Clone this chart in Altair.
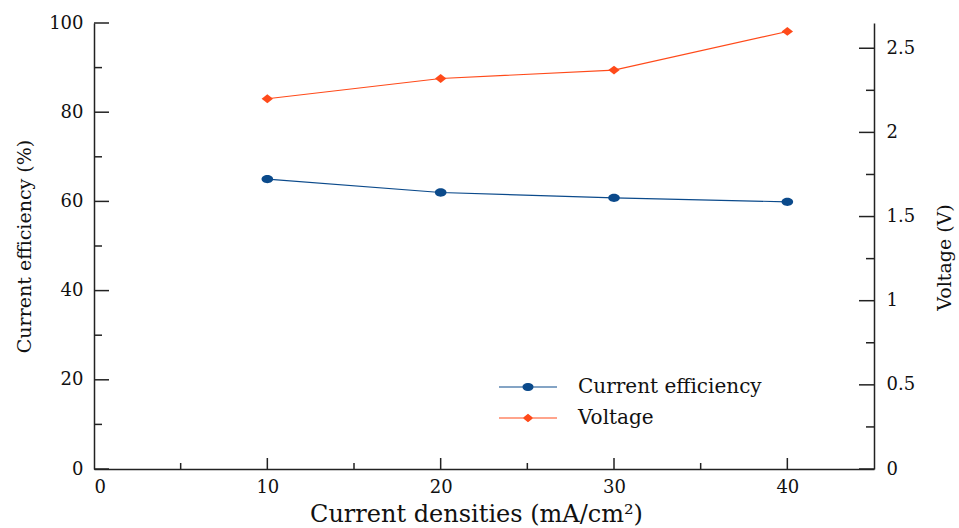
import altair as alt
import pandas as pd

# ---- data ----
current_density = [10, 20, 30, 40]
efficiency = [65.0, 62.0, 60.8, 59.9]
voltage = [2.20, 2.32, 2.37, 2.60]

x_labels = [0, 10, 20, 30, 40]
x_major_ticks = [10, 20, 30, 40]
x_minor_ticks = [5, 15, 25, 35]
left_major = [0, 20, 40, 60, 80, 100]
left_minor = [10, 30, 50, 70, 90]
right_major = [0, 0.5, 1, 1.5, 2, 2.5]
right_minor = [0.25, 0.75, 1.25, 1.75, 2.25]

series_eff = "Current efficiency"
series_volt = "Voltage"

# ---- style ----
FONT = "DejaVu Serif"
TXT = "#111111"
AX = "#222222"
BLUE = "#0b4a8b"
ORANGE = "#ff4a1a"
W, H = 780, 446

ELLIPSE = "M1,0A1,0.72,0,1,1,-1,0A1,0.72,0,1,1,1,0Z"
DIAMOND = "M-1,0L0,-0.78L1,0L0,0.78Z"
LEG_CIRCLE = "M-1,0H1M0.172,0A0.172,0.12,0,1,1,-0.172,0A0.172,0.12,0,1,1,0.172,0Z"
LEG_DIAMOND = "M-1,0H1M-0.15,0L0,-0.117L0.15,0L0,0.117Z"

df_eff = pd.DataFrame({"x": current_density, "v": efficiency})
df_volt = pd.DataFrame({"x": current_density, "v": voltage})

xscale = alt.Scale(domain=[0, 45], nice=False, zero=False)
lscale = alt.Scale(domain=[0, 100], nice=False)
rscale = alt.Scale(domain=[0, 2.65], nice=False)

xaxis = alt.Axis(
    values=x_labels, format="d", ticks=False, tickSize=0, labelPadding=9,
    labelFont=FONT, labelFontSize=18, labelColor=TXT,
    domainColor=AX, domainWidth=1.5, grid=False,
    title="Current densities (mA/cm²)", titleFont=FONT, titleFontSize=24,
    titleFontWeight="normal", titleColor=TXT, titleX=382, titleY=52,
    titleAlign="center", titleBaseline="alphabetic",
)
laxis = alt.Axis(
    orient="left", values=left_major, format="d", ticks=False, tickSize=0,
    labelPadding=11, labelFont=FONT, labelFontSize=18, labelColor=TXT,
    domainColor=AX, domainWidth=1.5, grid=False,
    title="Current efficiency (%)", titleFont=FONT, titleFontSize=19,
    titleFontWeight="normal", titleColor=TXT, titleAngle=270,
    titleX=-70, titleY=223, titleAlign="center", titleBaseline="middle",
)
raxis = alt.Axis(
    orient="right", values=right_major, format="~r", ticks=False, tickSize=0,
    labelPadding=12, labelFont=FONT, labelFontSize=18, labelColor=TXT,
    domainColor=AX, domainWidth=1.5, grid=False,
    title="Voltage (V)", titleFont=FONT, titleFontSize=19,
    titleFontWeight="normal", titleColor=TXT, titleAngle=270,
    titleX=70, titleY=234, titleAlign="center", titleBaseline="middle",
)

X = alt.X("x:Q", scale=xscale, axis=xaxis)
YL = alt.Y("v:Q", scale=lscale, axis=laxis)
YR = alt.Y("v:Q", scale=rscale, axis=raxis)


def legend_layer(name, path, color, ly):
    return alt.Chart(pd.DataFrame({"series": [name]})).mark_point(
        fill=color, stroke=color, strokeWidth=1.2, opacity=0
    ).encode(
        shape=alt.Shape(
            "series:N",
            scale=alt.Scale(domain=[name], range=[path]),
            legend=alt.Legend(
                orient="none", legendX=404, legendY=ly, title=None, padding=0,
                symbolSize=3364, symbolStrokeWidth=1.2, symbolOpacity=1,
                labelFont=FONT, labelFontSize=20, labelColor=TXT, labelOffset=20,
                labelLimit=400,
            ),
        )
    )


# ---- left group (current efficiency) ----
eff_line = alt.Chart(df_eff).mark_line(color=BLUE, strokeWidth=1.2).encode(x=X, y=YL)
eff_pts = alt.Chart(df_eff).mark_point(
    filled=True, color=BLUE, shape=ELLIPSE, size=135, opacity=1
).encode(x=X, y=YL)
l_major = alt.Chart(pd.DataFrame({"v": left_major})).mark_rule(color=AX, strokeWidth=1.5).encode(
    y=YL, x=alt.value(0), x2=alt.value(15))
l_minor = alt.Chart(pd.DataFrame({"v": left_minor})).mark_rule(color=AX, strokeWidth=1.5).encode(
    y=YL, x=alt.value(0), x2=alt.value(8))
xb_major = alt.Chart(pd.DataFrame({"x": x_major_ticks})).mark_rule(color=AX, strokeWidth=1.5).encode(
    x=X, y=alt.value(H), y2=alt.value(H - 11))
xb_minor = alt.Chart(pd.DataFrame({"x": x_minor_ticks})).mark_rule(color=AX, strokeWidth=1.5).encode(
    x=X, y=alt.value(H), y2=alt.value(H - 6))
leg_eff = legend_layer(series_eff, LEG_CIRCLE, BLUE, 334)

left = alt.layer(l_major, l_minor, xb_major, xb_minor, eff_line, eff_pts, leg_eff)

# ---- right group (voltage) ----
volt_line = alt.Chart(df_volt).mark_line(color=ORANGE, strokeWidth=1.1).encode(x=X, y=YR)
volt_pts = alt.Chart(df_volt).mark_point(
    filled=True, color=ORANGE, shape=DIAMOND, size=130, opacity=1
).encode(x=X, y=YR)
r_major = alt.Chart(pd.DataFrame({"v": right_major})).mark_rule(color=AX, strokeWidth=1.5).encode(
    y=YR, x=alt.value(W), x2=alt.value(W - 15))
r_minor = alt.Chart(pd.DataFrame({"v": right_minor})).mark_rule(color=AX, strokeWidth=1.5).encode(
    y=YR, x=alt.value(W), x2=alt.value(W - 8))
leg_volt = legend_layer(series_volt, LEG_DIAMOND, ORANGE, 365)

right = alt.layer(r_major, r_minor, volt_line, volt_pts, leg_volt)

chart = alt.layer(left, right).resolve_scale(
    y="independent", shape="independent"
).resolve_legend(shape="independent").properties(
    width=W, height=H,
    padding={"left": 94, "top": 23, "right": 85, "bottom": 59},
    autosize=alt.AutoSizeParams(type="none"),
    background="white",
).configure_view(stroke=None)

chart.save("out.html", embed_options={"renderer": "svg", "actions": False})
